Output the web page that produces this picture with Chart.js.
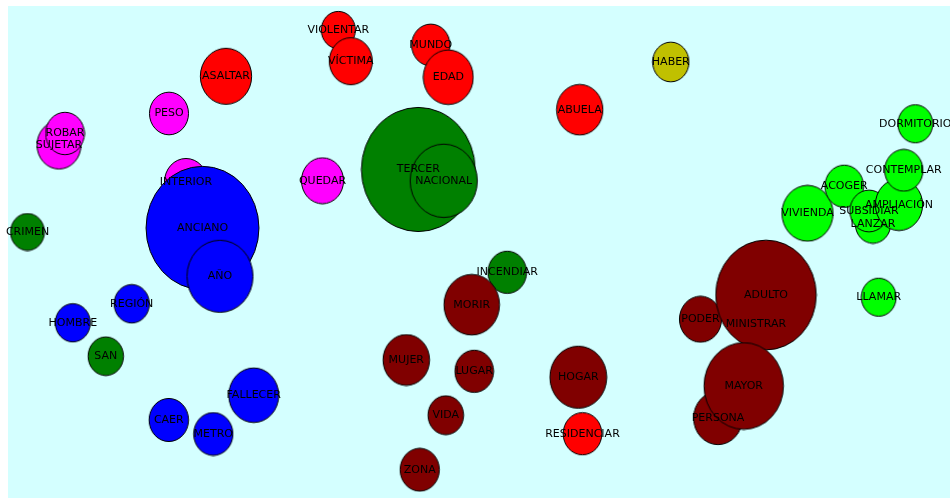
<!DOCTYPE html>
<html>
<head>
<meta charset="utf-8">
<script src="https://cdn.jsdelivr.net/npm/chart.js@4/dist/chart.umd.min.js"></script>
<style>
  html, body { margin: 0; padding: 0; background: #ffffff; }
  #wrap { width: 950px; height: 498px; }
</style>
</head>
<body>
<div id="wrap"><canvas id="c" width="950" height="498"></canvas></div>
<script>
// Words (drawing order: later entries are drawn on top)
const words = [
  "INTERIOR","SUJETAR","ROBAR","PESO","QUEDAR",
  "ASALTAR","VIOLENTAR","VÍCTIMA","MUNDO","EDAD","ABUELA","RESIDENCIAR",
  "HABER",
  "TERCER","NACIONAL","CRIMEN","SAN","INCENDIAR",
  "ANCIANO","AÑO","REGIÓN","HOMBRE","FALLECER","CAER","METRO",
  "MORIR","MUJER","LUGAR","VIDA","ZONA","HOGAR","MINISTRAR","PODER","ADULTO","PERSONA","MAYOR",
  "DORMITORIO","VIVIENDA","ACOGER","LANZAR","SUBSIDIAR","AMPLIACIÓN","CONTEMPLAR","LLAMAR"
];
// Horizontal coordinate of each word
const xValues = [
  178, 51, 57, 161, 314.5,
  218, 330.3, 342.8, 422.8, 440.3, 571.7, 574.5,
  662.8,
  410.3, 435.7, 19.5, 97.8, 499.2,
  194.5, 212, 123.7, 64.8, 245.7, 160.8, 205.3,
  463.7, 398.3, 466.2, 437.8, 411.7, 570.3, 748, 692.5, 758, 710, 735.7,
  907.3, 799.5, 836.2, 865, 861, 891, 895.8, 870.7
];
// Vertical coordinate of each word
const yValues = [
  316, 353, 364.5, 384.5, 317.3,
  421.7, 468, 436.8, 453, 420.8, 388.3, 64.3,
  436,
  328.5, 317.2, 266, 141.8, 225.7,
  270, 221.7, 194.2, 175.2, 102.8, 78, 64,
  193.3, 138, 126.7, 82.8, 28.3, 120.8, 174, 178.8, 203, 80, 112,
  374.2, 284.7, 311.8, 274, 287, 293.3, 327.7, 200.8
];
// Bubble size (weight) of each word
const sizes = [
  22.5, 23, 20.3, 20.4, 22,
  26.8, 17.8, 22.5, 20, 26.1, 24.2, 20.2,
  19,
  59.4, 35.1, 17.7, 18.5, 20.2,
  59, 34.5, 18.4, 18.3, 26.1, 20.6, 20.5,
  29, 24.3, 20.2, 18.6, 20.5, 29.7, 18, 22, 52.5, 25.5, 41.5,
  18.2, 26.7, 20.2, 18.5, 20, 24.7, 20, 18.2
];
// Cluster of each word
const clusters = [
  "c1","c1","c1","c1","c1",
  "c2","c2","c2","c2","c2","c2","c2",
  "c3",
  "c4","c4","c4","c4","c4",
  "c5","c5","c5","c5","c5","c5","c5",
  "c6","c6","c6","c6","c6","c6","c6","c6","c6","c6","c6",
  "c7","c7","c7","c7","c7","c7","c7","c7"
];
const clusterNames = ["c1","c2","c3","c4","c5","c6","c7"];
const clusterColors = ["#FF00FF","#FF0000","#C0C000","#008000","#0000FF","#800000","#00FF00"];

const colorOf = c => clusterColors[clusterNames.indexOf(c)];
const points = words.map((w, i) => ({ x: xValues[i], y: yValues[i], r: sizes[i] }));

// The original picture has slightly tall (elliptical) bubbles
const ASPECT = 1.045;
const spriteCache = {};
function bubbleSprite(r, color) {
  const key = r + '|' + color;
  if (spriteCache[key]) return spriteCache[key];
  const rx = r / ASPECT, ry = r * ASPECT;
  const cv = document.createElement('canvas');
  const w = Math.ceil(2 * rx + 2), h = Math.ceil(2 * ry + 2);
  cv.width = w; cv.height = h;
  const g = cv.getContext('2d');
  g.beginPath();
  g.ellipse(w / 2, h / 2, rx, ry, 0, 0, Math.PI * 2);
  g.fillStyle = color;
  g.fill();
  g.lineWidth = 1;
  g.strokeStyle = '#000000';
  g.stroke();
  spriteCache[key] = cv;
  return cv;
}

const bgPlugin = {
  id: 'bg',
  beforeDraw(chart) {
    const { ctx, chartArea: a } = chart;
    ctx.save();
    ctx.fillStyle = '#D4FFFF';
    ctx.fillRect(a.left, a.top, a.right - a.left, a.bottom - a.top);
    ctx.restore();
  }
};

const labelPlugin = {
  id: 'labels',
  afterDatasetsDraw(chart) {
    const ctx = chart.ctx;
    const meta = chart.getDatasetMeta(0);
    ctx.save();
    ctx.font = '11px "DejaVu Sans"';
    ctx.fillStyle = '#000000';
    ctx.textAlign = 'center';
    ctx.textBaseline = 'middle';
    meta.data.forEach((el, i) => {
      ctx.fillText(words[i], el.x, el.y);
    });
    ctx.restore();
  }
};

new Chart(document.getElementById('c'), {
  type: 'bubble',
  data: {
    labels: words,
    datasets: [{
      data: points,
      backgroundColor: clusters.map(colorOf),
      borderColor: '#000000',
      borderWidth: 1,
      pointStyle: (ctx) => bubbleSprite(ctx.raw.r, colorOf(clusters[ctx.dataIndex])),
      hoverRadius: 0,
      clip: false
    }]
  },
  options: {
    responsive: false,
    animation: false,
    events: [],
    layout: { autoPadding: false, padding: { left: 8, top: 6, right: 0, bottom: 0 } },
    plugins: { legend: { display: false }, tooltip: { enabled: false } },
    scales: {
      x: { type: 'linear', min: 0, max: 942, display: false },
      y: { type: 'linear', min: 0, max: 492, display: false }
    }
  },
  plugins: [bgPlugin, labelPlugin]
});
</script>
</body>
</html>
